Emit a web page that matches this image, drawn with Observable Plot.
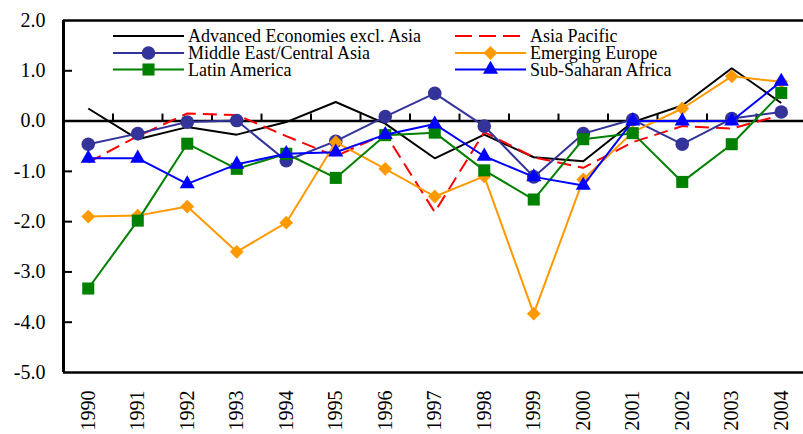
<!DOCTYPE html>
<html>
<head>
<meta charset="utf-8">
<script src="https://cdn.jsdelivr.net/npm/d3@7"></script>
<script src="https://cdn.jsdelivr.net/npm/@observablehq/plot@0.6"></script>
<style>
  html, body { margin: 0; padding: 0; background: #fff; }
  #wrap { position: relative; width: 803px; height: 434px; overflow: hidden; }
  #legend { position: absolute; left: 0; top: 0; pointer-events: none; }
  #wrap svg text { font-family: "Liberation Serif", "Times New Roman", serif; }
</style>
</head>
<body>
<div id="wrap"></div>
<script>
const years = [1990, 1991, 1992, 1993, 1994, 1995, 1996, 1997, 1998, 1999, 2000, 2001, 2002, 2003, 2004];
const yTicks = [2, 1, 0, -1, -2, -3, -4, -5];

const advanced       = [0.25, -0.36, -0.12, -0.27, -0.02, 0.38, -0.05, -0.74, -0.27, -0.72, -0.80, -0.02, 0.31, 1.05, 0.36];
const asiaPacific    = [-0.82, -0.30, 0.15, 0.12, -0.30, -0.70, -0.25, -1.81, -0.22, -0.72, -0.93, -0.42, -0.10, -0.15, 0.12];
const middleEast     = [-0.46, -0.25, -0.02, 0.01, -0.79, -0.40, 0.09, 0.55, -0.10, -1.11, -0.25, 0.03, -0.46, 0.05, 0.18];
const emergingEurope = [-1.90, -1.88, -1.70, -2.60, -2.02, -0.42, -0.95, -1.50, -1.10, -3.83, -1.16, -0.22, 0.25, 0.89, 0.78];
const latinAmerica   = [-3.33, -1.98, -0.45, -0.95, -0.65, -1.13, -0.28, -0.23, -0.98, -1.56, -0.36, -0.24, -1.21, -0.46, 0.56];
const subSaharan     = [-0.74, -0.74, -1.25, -0.86, -0.65, -0.62, -0.27, -0.06, -0.70, -1.11, -1.28, 0.00, 0.00, 0.00, 0.79];

const seriesNames  = ["Advanced Economies excl. Asia", "Asia Pacific", "Middle East/Central Asia", "Emerging Europe", "Latin America", "Sub-Saharan Africa"];
const seriesValues = [advanced, asiaPacific, middleEast, emergingEurope, latinAmerica, subSaharan];
const seriesColors = ["#000000", "#FF0000", "#333399", "#FF9900", "#008000", "#0000FF"];
const seriesSymbols = [null, null, "circle", "diamond2", "square", "triangle"];
const seriesR = [0, 0, 6.8, 6.2, 6.8, 5.6];
const seriesDash = [null, "14,7", null, null, null, null];

const serif = "'Liberation Serif', 'Times New Roman', serif";
const boundaries = years.slice(0, -1).map(y => y + 0.5);

const marks = [
  Plot.ruleY([2], {stroke: "#000", strokeWidth: 2.5}),
  Plot.ruleY([-5], {stroke: "#000", strokeWidth: 2.5}),
  Plot.ruleY([0], {stroke: "#000", strokeWidth: 2.5}),
  Plot.ruleX(boundaries, {x: d => d, y1: () => 0, y2: () => 0, insetTop: -7, stroke: "#000", strokeWidth: 2}),
  Plot.axisY({ticks: yTicks, tickSize: 0, tickPadding: 18, tickFormat: d => d.toFixed(1), fill: "#000",
    label: null, fontFamily: serif, fontSize: 20}),
  Plot.axisY({ticks: yTicks.filter(d => d !== 2 && d !== -5 && d !== 0), tickSize: -9, text: null, label: null, stroke: "#000", strokeWidth: 2}),
  Plot.axisX({ticks: years, tickSize: 0, tickPadding: 18, tickRotate: -90, tickFormat: d => String(d), fill: "#000",
    label: null, fontFamily: serif, fontSize: 20})
];

seriesValues.forEach((vals, k) => {
  const data = years.map((yr, i) => ({year: yr, value: vals[i]}));
  marks.push(Plot.line(data, {x: "year", y: "value", stroke: seriesColors[k], strokeWidth: 2,
    strokeDasharray: seriesDash[k] || undefined, strokeLinejoin: "miter", strokeLinecap: "butt"}));
  if (seriesSymbols[k]) {
    marks.push(Plot.dot(data, {x: "year", y: "value", symbol: seriesSymbols[k], r: seriesR[k], fill: seriesColors[k], stroke: "none"}));
  }
});

marks.push(Plot.ruleX([1989.5], {stroke: "#000", strokeWidth: 3}));

const chart = Plot.plot({
  width: 803,
  height: 434,
  marginLeft: 63,
  marginRight: -2.5,
  marginTop: 20,
  marginBottom: 62,
  x: {domain: [1989.5, 2004.5], label: null},
  y: {domain: [-5, 2], label: null},
  style: {fontFamily: serif, fontSize: "20px", color: "#000", background: "#fff"},
  marks
});
document.getElementById("wrap").appendChild(chart);

// Legend overlay (two columns, three rows)
const legend = d3.select("#wrap").append("svg")
  .attr("id", "legend").attr("width", 803).attr("height", 434);
const colX = [113, 455];
const rowY = [36, 53, 69.5];
const sampleW = 71;
const symMap = {circle: d3.symbolCircle, diamond2: d3.symbolDiamond2, square: d3.symbolSquare, triangle: d3.symbolTriangle};
seriesNames.forEach((name, k) => {
  const cx = colX[k % 2], cy = rowY[Math.floor(k / 2)];
  const g = legend.append("g");
  g.append("line").attr("x1", cx).attr("x2", cx + sampleW).attr("y1", cy).attr("y2", cy)
    .attr("stroke", seriesColors[k]).attr("stroke-width", 2)
    .attr("stroke-dasharray", seriesDash[k] ? "17,7" : null);
  if (seriesSymbols[k]) {
    g.append("path").attr("d", d3.symbol(symMap[seriesSymbols[k]], Math.PI * seriesR[k] * seriesR[k])())
      .attr("transform", `translate(${cx + sampleW / 2},${cy})`).attr("fill", seriesColors[k]);
  }
  g.append("text").attr("x", cx + sampleW + 4).attr("y", cy + 6)
    .attr("font-family", serif).attr("font-size", 18)
    .attr("fill", "#000").text(name);
});
</script>
</body>
</html>
